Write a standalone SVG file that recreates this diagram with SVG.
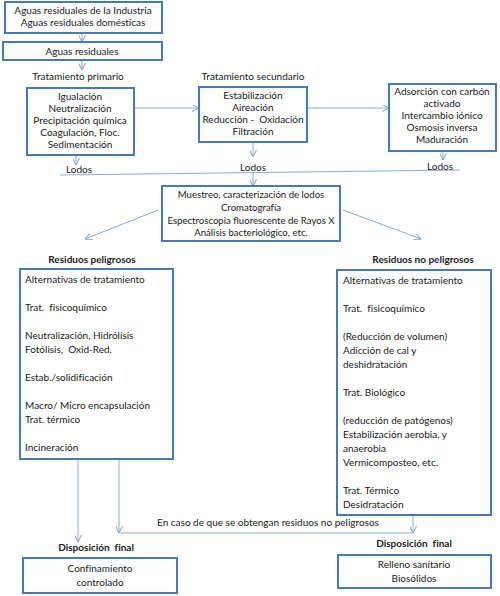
<svg xmlns="http://www.w3.org/2000/svg" width="500" height="596" viewBox="0 0 500 596">
<style>
.box{fill:#fff;stroke:#4a78b8;stroke-width:2}
.t{font-family:Lato,"Liberation Sans",sans-serif;font-size:10px;fill:#1a1a1a;font-variant-ligatures:none}
.c{text-anchor:middle}
.b{font-weight:bold}
.s{font-size:9.6px}
.ln{stroke:#8eaad8;stroke-width:1;fill:none}
</style>
<defs>
<marker id="ah" viewBox="0 0 10 10" refX="10" refY="5" markerWidth="7" markerHeight="7" orient="auto" markerUnits="userSpaceOnUse">
<path d="M0,0 L10,5 L0,10" fill="none" stroke="#8eaad8" stroke-width="1.5"/>
</marker>
</defs>
<rect width="500" height="596" fill="#fff"/>

<g id="connectors">
<line class="ln" x1="82" y1="33" x2="82" y2="42" marker-end="url(#ah)"/>
<line class="ln" x1="82" y1="60" x2="82" y2="70" marker-end="url(#ah)"/>
<line class="ln" x1="134" y1="108" x2="199" y2="108" marker-end="url(#ah)"/>
<line class="ln" x1="307" y1="108" x2="389" y2="108" marker-end="url(#ah)"/>
<line class="ln" x1="76" y1="155" x2="76" y2="165" marker-end="url(#ah)"/>
<line class="ln" x1="253" y1="142" x2="253" y2="157" marker-end="url(#ah)"/>
<line class="ln" x1="443" y1="151" x2="443" y2="160" marker-end="url(#ah)"/>
<line class="ln" x1="60" y1="175" x2="460" y2="170"/>
<line class="ln" x1="253" y1="173" x2="253" y2="186" marker-end="url(#ah)"/>
<line class="ln" x1="158" y1="210" x2="85" y2="239" marker-end="url(#ah)" stroke="#9a9ad0"/>
<line class="ln" x1="343" y1="210" x2="421" y2="239" marker-end="url(#ah)"/>
<line class="ln" x1="78" y1="459" x2="78" y2="542" marker-end="url(#ah)"/>
<line class="ln" x1="119" y1="459" x2="119" y2="533" marker-end="url(#ah)"/>
<line class="ln" x1="119" y1="533" x2="413" y2="533"/>
<line class="ln" x1="413" y1="515" x2="413" y2="533" marker-end="url(#ah)"/>
</g>

<g id="n-fuentes">
<rect class="box" x="5" y="2" width="157" height="31"/>
<text class="t c" x="83" y="14">Aguas residuales de la Industria</text>
<text class="t c" x="83" y="26">Aguas residuales domésticas</text>
</g>
<g id="n-aguas">
<rect class="box" x="3" y="42" width="159" height="18"/>
<text class="t c" x="82" y="55">Aguas residuales</text>
</g>
<g id="n-primario">
<text class="t c" x="78" y="80">Tratamiento primario</text>
<rect class="box" x="27" y="88" width="107" height="67"/>
<text class="t c" x="80" y="100">Igualación</text>
<text class="t c" x="80" y="112">Neutralización</text>
<text class="t c" x="80" y="124">Precipitación química</text>
<text class="t c" x="80" y="136">Coagulación, Floc.</text>
<text class="t c" x="80" y="148">Sedimentación</text>
<text class="t" x="66" y="173">Lodos</text>
</g>
<g id="n-secundario">
<text class="t c" x="253" y="80">Tratamiento secundario</text>
<rect class="box" x="199" y="87" width="108" height="55"/>
<text class="t c" x="253" y="99">Estabilización</text>
<text class="t c" x="253" y="111">Aireación</text>
<text class="t c" x="253" y="123" xml:space="preserve">Reducción -  Oxidación</text>
<text class="t c" x="253" y="135">Filtración</text>
<text class="t c" x="253" y="171">Lodos</text>
</g>
<g id="n-terciario">
<rect class="box" x="389" y="84" width="107" height="67"/>
<text class="t c" x="442" y="95">Adsorción con carbón</text>
<text class="t c" x="442" y="107">activado</text>
<text class="t c" x="442" y="119">Intercambio iónico</text>
<text class="t c" x="442" y="131">Osmosis inversa</text>
<text class="t c" x="442" y="143">Maduración</text>
<text class="t c" x="440" y="170">Lodos</text>
</g>
<g id="n-muestreo">
<rect class="box" x="162" y="186" width="178" height="55"/>
<text class="t c s" x="251" y="198">Muestreo, caracterización de lodos</text>
<text class="t c s" x="251" y="211">Cromatografía</text>
<text class="t c s" x="251" y="224">Espectroscopia fluorescente de Rayos X</text>
<text class="t c s" x="251" y="236">Análisis bacteriológico, etc.</text>
</g>
<g id="n-peligrosos">
<text class="t c b" x="92" y="263">Residuos peligrosos</text>
<rect class="box" x="20" y="269" width="153" height="190"/>
<text class="t" x="25" y="283">Alternativas de tratamiento</text>
<text class="t" x="25" y="311" xml:space="preserve">Trat.  fisicoquímico</text>
<text class="t" x="25" y="339">Neutralización, Hidrólisis</text>
<text class="t" x="25" y="353" xml:space="preserve">Fotólisis,  Oxid-Red.</text>
<text class="t" x="25" y="381">Estab./solidificación</text>
<text class="t" x="25" y="409">Macro/ Micro encapsulación</text>
<text class="t" x="25" y="423">Trat. térmico</text>
<text class="t" x="25" y="451">Incineración</text>
</g>
<g id="n-nopeligrosos">
<text class="t c b" x="423" y="263">Residuos no peligrosos</text>
<rect class="box" x="337" y="270" width="154" height="245"/>
<text class="t" x="343" y="284">Alternativas de tratamiento</text>
<text class="t" x="343" y="312" xml:space="preserve">Trat.  fisicoquímico</text>
<text class="t" x="343" y="340">(Reducción de volumen)</text>
<text class="t" x="343" y="354">Adicción de cal y</text>
<text class="t" x="343" y="368">deshidratación</text>
<text class="t" x="343" y="396">Trat. Biológico</text>
<text class="t" x="343" y="424">(reducción de patógenos)</text>
<text class="t" x="343" y="438">Estabilización aerobia, y</text>
<text class="t" x="343" y="452">anaerobia</text>
<text class="t" x="343" y="466">Vermicomposteo, etc.</text>
<text class="t" x="343" y="494">Trat. Térmico</text>
<text class="t" x="343" y="508">Desidratación</text>
</g>
<g id="n-nota">
<text class="t c" x="268" y="526">En caso de que se obtengan residuos no peligrosos</text>
</g>
<g id="n-disp-izq">
<text class="t c b" x="96" y="551" xml:space="preserve">Disposición  final</text>
<rect class="box" x="23" y="558" width="154" height="35"/>
<text class="t c" x="100" y="572">Confinamiento</text>
<text class="t c" x="100" y="586">controlado</text>
</g>
<g id="n-disp-der">
<text class="t c b" x="414" y="547" xml:space="preserve">Disposición  final</text>
<rect class="box" x="338" y="555" width="153" height="33"/>
<text class="t c" x="414" y="568">Relleno sanitario</text>
<text class="t c" x="414" y="582">Biosólidos</text>
</g>
</svg>
